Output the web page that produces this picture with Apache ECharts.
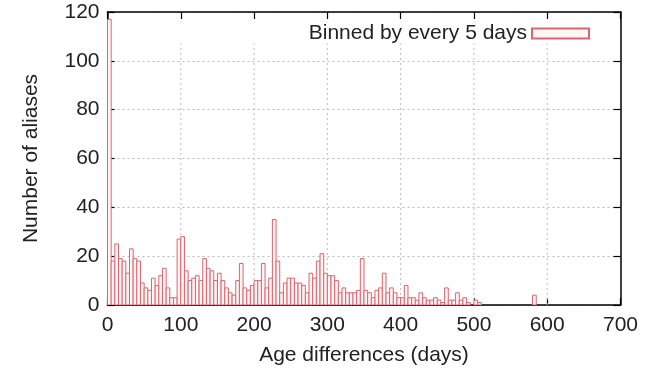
<!DOCTYPE html>
<html>
<head>
<meta charset="utf-8">
<script src="https://cdn.jsdelivr.net/npm/echarts@6/dist/echarts.min.js"></script>
<style>
html,body{margin:0;padding:0;background:#fff;}
#chart{width:654px;height:373px;}
</style>
</head>
<body>
<div id="chart"></div>
<script>
// Bin start (days) for each 5-day bin
var binStarts = [0,5,10,15,20,25,30,35,40,45,50,55,60,65,70,75,80,85,90,95,
  100,105,110,115,120,125,130,135,140,145,150,155,160,165,170,175,180,185,190,195,
  200,205,210,215,220,225,230,235,240,245,250,255,260,265,270,275,280,285,290,295,
  300,305,310,315,320,325,330,335,340,345,350,355,360,365,370,375,380,385,390,395,
  400,405,410,415,420,425,430,435,440,445,450,455,460,465,470,475,480,485,490,495,
  500,505,580];
// Number of aliases in each bin
var counts = [117,18,25,19,18,13,23,19,18,9,7,6,11,8,12,15,7,3,3,27,
  28,14,10,11,12,10,19,15,14,10,13,10,7,5,4,10,17,7,6,8,
  10,10,17,7,11,35,18,5,9,11,11,9,9,8,5,13,11,18,21,13,
  12,12,10,5,7,5,5,5,6,19,6,5,3,6,7,13,5,7,5,3,
  3,8,3,3,2,5,3,2,2,3,2,1,7,2,2,5,2,3,1,0,
  2,1,4];
var binWidth = 5;
var xTicks = [0,100,200,300,400,500,600,700];
var yTicks = [0,20,40,60,80,100,120];
var seriesName = 'Binned by every 5 days';

var data = binStarts.map(function(s,i){return [s, counts[i]];});
var FONT = '"Liberation Sans", Arial, sans-serif';
var FS = 21;
var GRID_TOP_VALUE = 107; // vertical grid lines stop below the key area
var chart = echarts.init(document.getElementById('chart'), null, {renderer:'canvas'});
var tickCommon = {show:true, inside:true, length:7, lineStyle:{color:'#000', width:1.2}};
var border = {show:true, onZero:false, lineStyle:{color:'#000', width:1.5}};
var vGridData = [];
xTicks.slice(1, -1).forEach(function(x){
  vGridData.push([x, yTicks[0]], [x, GRID_TOP_VALUE], '-');
});
chart.setOption({
  animation:false,
  backgroundColor:'#fff',
  grid:{left:107.5, right:33.5, top:12, bottom:68, show:false},
  legend:{
    show:true, data:[seriesName], right:59, top:18, itemWidth:57, itemHeight:10, align:'right', itemGap:10,
    textStyle:{fontFamily:FONT, fontSize:FS, color:'#222'}, icon:'rect', selectedMode:false
  },
  xAxis:[{
    type:'value', min:xTicks[0], max:xTicks[xTicks.length-1], interval:100,
    name:'Age differences (days)', nameLocation:'middle', nameGap:40,
    nameTextStyle:{fontFamily:FONT, fontSize:FS, color:'#222'},
    axisLine:border,
    axisTick:tickCommon,
    axisLabel:{fontFamily:FONT, fontSize:FS, color:'#222', margin:10},
    splitLine:{show:false}
  },{
    type:'value', position:'top', min:xTicks[0], max:xTicks[xTicks.length-1], interval:100,
    axisLine:border, axisTick:tickCommon, axisLabel:{show:false}, splitLine:{show:false}
  }],
  yAxis:[{
    type:'value', min:yTicks[0], max:yTicks[yTicks.length-1], interval:20,
    name:'Number of aliases', nameLocation:'middle', nameGap:66,
    nameTextStyle:{fontFamily:FONT, fontSize:FS, color:'#222'},
    axisLine:border,
    axisTick:tickCommon,
    axisLabel:{fontFamily:FONT, fontSize:FS, color:'#222', margin:8},
    splitLine:{show:true, lineStyle:{color:'#bbb', type:[2,3], width:1}}
  },{
    type:'value', position:'right', min:yTicks[0], max:yTicks[yTicks.length-1], interval:20,
    axisLine:border, axisTick:tickCommon, axisLabel:{show:false}, splitLine:{show:false}
  }],
  series:[{
    name:'vgrid',
    type:'line',
    xAxisIndex:0, yAxisIndex:0,
    silent:true, z:0,
    showSymbol:false, symbol:'none',
    connectNulls:false,
    lineStyle:{color:'#bbb', type:[2,3], width:1},
    data:vGridData
  },{
    name:seriesName,
    type:'custom',
    xAxisIndex:0, yAxisIndex:0,
    clip:true,
    z:2,
    itemStyle:{color:'#fff6f6', borderColor:'#dc6470', borderWidth:1},
    renderItem:function(params, api){
      var x0 = api.value(0), v = api.value(1);
      if (v <= 0) return null;
      var pTop = api.coord([x0, v]);
      var pBot = api.coord([x0 + binWidth, 0]);
      return {
        type:'rect',
        shape:{x:pTop[0], y:pTop[1], width:pBot[0]-pTop[0], height:pBot[1]-pTop[1]},
        style:{fill:'#fff6f6', stroke:'#dc6470', lineWidth:1}
      };
    },
    encode:{x:0, y:1},
    data:data
  }]
});
</script>
</body>
</html>
